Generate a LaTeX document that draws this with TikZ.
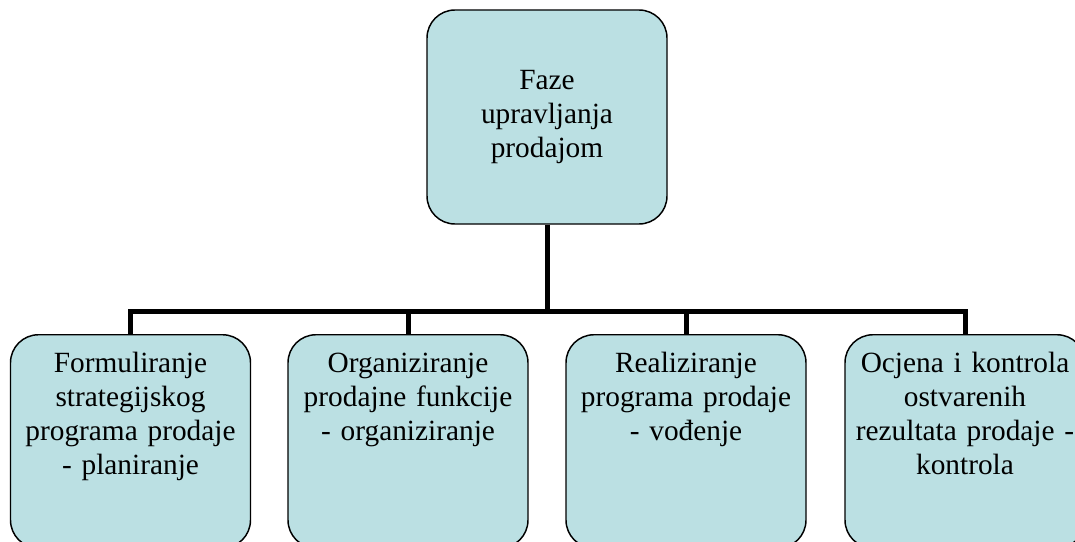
\documentclass[tikz,border=0pt]{standalone}
\usepackage{fontspec}
\setmainfont{Liberation Serif}
\usepackage{tikz}
\definecolor{phasefill}{RGB}{187,224,227}
\tikzset{
    phase/.style={draw, rounded corners=21pt, fill=phasefill, line width=1.1pt,
        minimum width=180pt, text width=172pt, inner xsep=4pt, align=center,
        font=\fontsize{22}{25.5}\selectfont},
    leaf/.style={anchor=north, text height=16pt, text depth=120pt, inner ysep=12pt},
    link/.style={line width=3.75pt}
}

\begin{document}
\begin{tikzpicture}[x=0.75pt,y=0.75pt]
            \useasboundingbox (0,0) rectangle (1075,-542);
            \coordinate (bar) at (0,-311);

            \node[phase, minimum height=160.5pt] (root) at (547,-117) {Faze\\upravljanja\\prodajom};
            \node[phase, leaf] (plan) at (130.5,-334) {Formuliranje\\strategijskog\\programa prodaje\\- planiranje};
            \node[phase, leaf] (org)  at (408,-334)   {Organiziranje\\prodajne funkcije\\- organiziranje};
            \node[phase, leaf] (lead) at (686,-334)   {Realiziranje\\programa prodaje\\- vođenje};
            \node[phase, leaf] (ctrl) at (965,-334)   {Ocjena i kontrola\\ostvarenih\\rezultata prodaje -\\kontrola};

            \draw[link] (root.south) -- (root.south |- bar);
            \draw[link] (plan.north) -- (plan.north |- bar) -- (ctrl.north |- bar) -- (ctrl.north);
            \draw[link] (org.north)  -- (org.north |- bar);
            \draw[link] (lead.north) -- (lead.north |- bar);
        \end{tikzpicture}
\end{document}
